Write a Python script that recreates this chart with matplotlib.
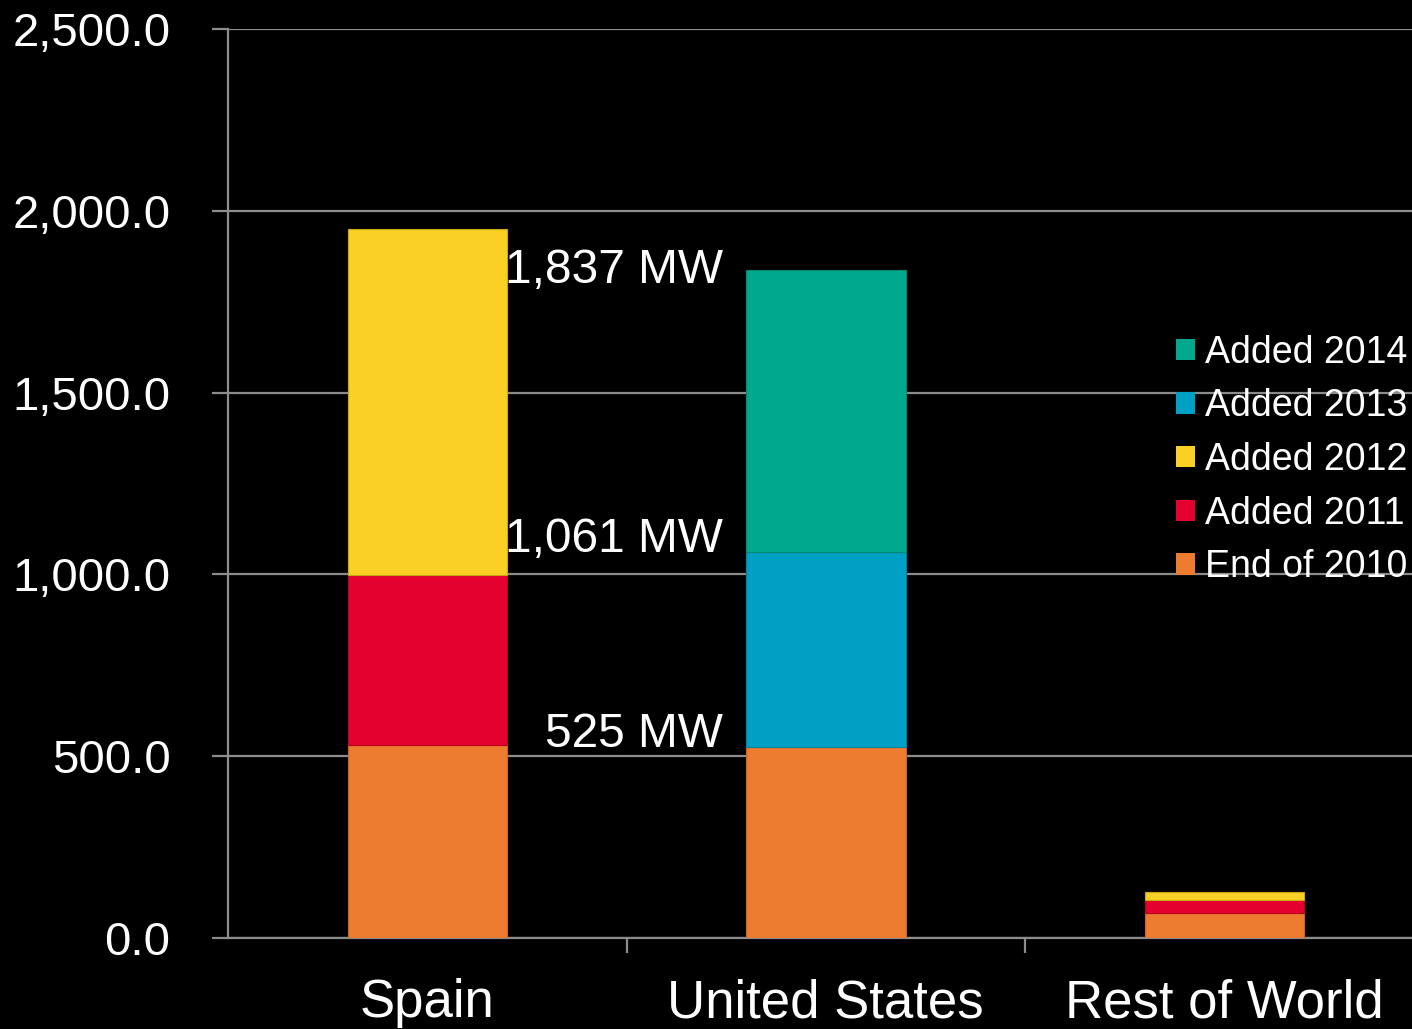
import matplotlib.pyplot as plt
from matplotlib.patches import Patch
from matplotlib.ticker import FuncFormatter

# Installed solar thermal capacity (MW) by region, stacked by year of addition
countries = ["Spain", "United States", "Rest of World"]
end_2010 = [530, 525, 70]
added_2011 = [468, 0, 35]
added_2012 = [952, 0, 22]
added_2013 = [0, 536, 0]
added_2014 = [0, 776, 0]

series = [
    ("End of 2010", end_2010, "#ED7B30", "#C8651F"),
    ("Added 2011", added_2011, "#E4002F", "#B8001F"),
    ("Added 2012", added_2012, "#F9D023", "#C9A514"),
    ("Added 2013", added_2013, "#00A0C4", "#0080A0"),
    ("Added 2014", added_2014, "#00A88E", "#008870"),
]

# Cumulative US totals written next to the US bar
us_labels = ["525 MW", "1,061 MW", "1,837 MW"]
us_levels = [525, 1061, 1837]

plt.rcParams["font.family"] = ["Liberation Sans", "DejaVu Sans"]

fig = plt.figure(figsize=(14.12, 10.29), dpi=100, facecolor="black")
ax = fig.add_axes([0.1615, 0.0884, 0.8467, 0.8834])
ax.set_facecolor("black")

bottom = [0] * len(countries)
for name, vals, color, edge in series:
    # skip empty segments so they don't leave an edge line behind
    idx = [i for i, v in enumerate(vals) if v > 0]
    ax.bar(idx, [vals[i] for i in idx], width=0.4,
           bottom=[bottom[i] for i in idx], color=color, edgecolor=edge,
           linewidth=0.8, zorder=3)
    bottom = [b + v for b, v in zip(bottom, vals)]

for text, level in zip(us_labels, us_levels):
    drop = -13 if level == max(us_levels) else 0
    ax.annotate(text, (0.742, level), xytext=(0, drop),
                textcoords="offset pixels", ha="right", va="baseline",
                color="white", fontsize=34.5, zorder=4)

ax.set_xlim(-0.5, 2.5)
ax.set_ylim(0, 2500)
ax.set_yticks([0, 500, 1000, 1500, 2000, 2500])
ax.yaxis.set_major_formatter(FuncFormatter(lambda v, p: f"{v:,.1f}"))
ax.grid(axis="y", color="#8C8C8C", linewidth=1.6, zorder=0)

ax.set_xticks(range(len(countries)))
ax.set_xticklabels(countries)
ax.set_xticks([0.5, 1.5], minor=True)
ax.tick_params(axis="x", which="major", length=0, pad=29, labelsize=38,
               colors="white")
ax.tick_params(axis="x", which="minor", length=11, width=1.6,
               color="#8C8C8C", direction="out")
ax.tick_params(axis="y", length=11.5, width=1.6, color="#8C8C8C",
               pad=30, labelsize=34, labelcolor="white")

for side in ("top", "right"):
    ax.spines[side].set_visible(False)
for side in ("left", "bottom"):
    ax.spines[side].set_color("#8C8C8C")
    ax.spines[side].set_linewidth(1.6)

handles = [Patch(facecolor=c, edgecolor="none", label=n)
           for n, _, c, _ in reversed(series)]
ax.legend(handles=handles, loc="center left",
          bbox_to_anchor=(0.833, 0.553), bbox_transform=fig.transFigure,
          frameon=False, fontsize=27, labelcolor="white",
          handlelength=0.5, handleheight=0.5, handletextpad=0.27,
          labelspacing=0.47, borderpad=0, borderaxespad=0)

fig.savefig("out.png", dpi=100, facecolor="black")
